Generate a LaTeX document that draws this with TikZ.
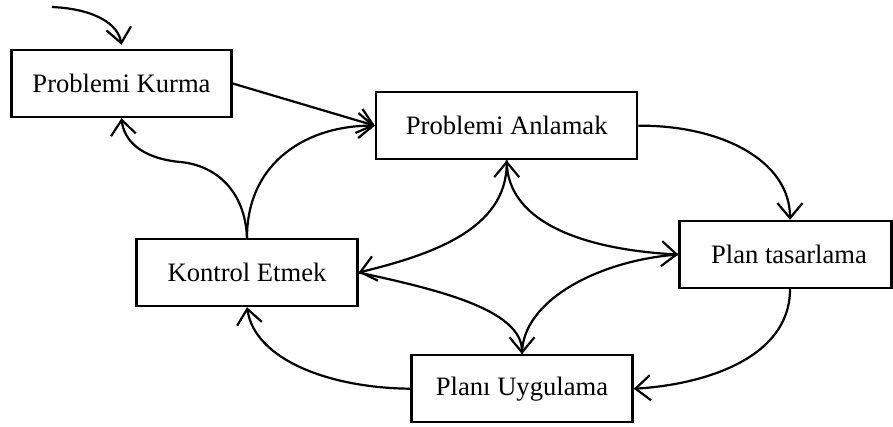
\documentclass[tikz,border=0pt]{standalone}
\usepackage{fontspec}
\setmainfont{Liberation Serif}
\usetikzlibrary{arrows.meta,calc}

\tikzset{
  barb/.tip={Straight Barb[length=15pt,width=25pt,line width=2.2pt]},
  stage/.style={draw, line width=2.4pt, inner sep=0pt, minimum height=67pt,
    font=\fontsize{26.6}{30}\selectfont},
  flow/.style={line width=2.2pt, -barb},
  flowboth/.style={line width=2.2pt, barb-barb},
  plain/.style={line width=2.2pt}
}

\begin{document}
\begin{tikzpicture}[x=1pt, y=-1pt]
  \useasboundingbox (0,0) rectangle (893,426);

  % process stages
  \node[stage, minimum width=220pt] (PK) at (121.5,83.5) {Problemi Kurma};
  \node[stage, minimum width=261pt] (PA) at (506.7,125.7) {Problemi Anlamak};
  \node[stage, minimum width=212pt] (PT) at (785.5,254.5) {\hspace*{7pt}Plan tasarlama};
  \node[stage, minimum width=221pt] (KE) at (247,272.5) {Kontrol Etmek};
  \node[stage, minimum width=221pt] (PU) at (522,388.7) {Planı Uygulama};

  % attachment points on the design box
  \coordinate (PTn) at ($(PT.north)+(4.5,0)$);
  \coordinate (PTs) at ($(PT.south)+(4.5,0)$);
  \coordinate (start) at (52,7);

  % entry arrow
  \draw[flow] (start) .. controls (95,9) and (118,24) .. ($(PK.north)+(0,-4)$);

  % outer cycle
  \draw[flow] (PK.east) -- (PA.west);
  \draw[flow] (PA.east) .. controls (720,125) and (790,160) .. (PTn);
  \draw[flow] (PTs) .. controls (790,360) and (700,385) .. (PU.east);
  \draw[flow] (PU.west) .. controls (330,388) and (255,360) .. (KE.south);
  \draw[flow] (KE.north) .. controls (247,160) and (310,125) .. (PA.west);
  \draw[flow] (KE.north) .. controls (245,190) and (215,165) .. (180,162)
              .. controls (140,158) and (124,140) .. (PK.south);

  % inner links
  \draw[flowboth] (KE.east) .. controls (430,255) and (506.7,230) .. (PA.south);
  \draw[flow] (PA.south) .. controls (506.7,225) and (590,250) .. (PT.west);
  \draw[flow] (KE.east) .. controls (440,290) and (522,310) .. (PU.north);
  \draw[plain] (PT.west) .. controls (600,260) and (522,300) .. (PU.north);
\end{tikzpicture}
\end{document}
